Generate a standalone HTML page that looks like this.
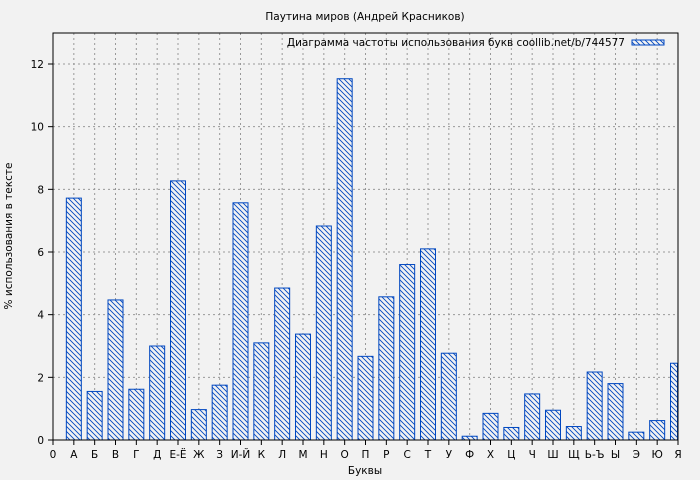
<!DOCTYPE html>
<html><head><meta charset="utf-8"><style>
body{margin:0;background:#f2f2f2;}
svg{display:block;font-family:"DejaVu Sans","Liberation Sans",sans-serif;}
</style></head><body>
<svg id="s" width="700" height="480" xmlns="http://www.w3.org/2000/svg">
<defs>
<pattern id="h" patternUnits="userSpaceOnUse" width="5" height="5">
<rect width="5" height="5" fill="#f2f2f2"/>
<path d="M-1,-1 L6,6 M-1,4 L1,6 M4,-1 L6,1" stroke="#0047c0" stroke-width="0.9"/>
</pattern>
</defs>
<rect x="53" y="33" width="625" height="407" fill="#f2f2f2"/>
<g id="grid"></g>
<g id="bars"></g>
<rect x="53" y="33" width="625" height="407" fill="none" stroke="#000" stroke-width="1"/>
<g id="ticks"></g>
<text x="365" y="20" font-size="10.5" text-anchor="middle">Паутина миров (Андрей Красников)</text>
<text x="625" y="46" font-size="10.5" text-anchor="end">Диаграмма частоты использования букв coollib.net/b/744577</text>
<rect x="632" y="40" width="32" height="5" fill="url(#h)" stroke="#0047c0"/>
<text x="365" y="474" font-size="10.5" text-anchor="middle">Буквы</text>
<text transform="translate(12,236) rotate(-90)" font-size="10.5" text-anchor="middle">% использования в тексте</text>
</svg>
<script>
const NS="http://www.w3.org/2000/svg";
function el(p,t,a,txt){const e=document.createElementNS(NS,t);for(const k in a)e.setAttribute(k,a[k]);if(txt!=null)e.textContent=txt;document.getElementById(p).appendChild(e);}
const L=["0","А","Б","В","Г","Д","Е-Ё","Ж","З","И-Й","К","Л","М","Н","О","П","Р","С","Т","У","Ф","Х","Ц","Ч","Ш","Щ","Ь-Ъ","Ы","Э","Ю","Я"];
const V=[7.72,1.55,4.47,1.62,3.0,8.27,0.97,1.75,7.57,3.1,4.85,3.38,6.83,11.53,2.67,4.57,5.6,6.1,2.77,0.12,0.85,0.4,1.47,0.95,0.43,2.17,1.8,0.25,0.62,2.45];
const X0=53,dx=625/30,Y0=440,k=376/12;
for(let i=1;i<30;i++){const x=X0+i*dx;el("grid","line",{x1:x,x2:x,y1:33,y2:440,stroke:"#999","stroke-dasharray":"2,3"});}
for(let v=2;v<=12;v+=2){const y=Y0-v*k;el("grid","line",{x1:53,x2:678,y1:y,y2:y,stroke:"#999","stroke-dasharray":"2,3"});}
V.forEach((v,j)=>{const i=j+1;const cx=X0+i*dx;let x=cx-8,w=16;if(x+w>678)w=678-x;const y=Y0-v*k;
el("bars","rect",{x:x+.5,y:y,width:w-1,height:Y0-y,fill:"url(#h)",stroke:"#0047c0","stroke-width":1});});
for(let i=0;i<=30;i++){const x=X0+i*dx;el("ticks","line",{x1:x,x2:x,y1:440,y2:445,stroke:"#000"});el("ticks","text",{x:x,y:458,"font-size":10.5,"text-anchor":"middle"},L[i]);}
for(let v=0;v<=12;v+=2){const y=Y0-v*k;el("ticks","line",{x1:48,x2:53,y1:y,y2:y,stroke:"#000"});el("ticks","text",{x:44,y:y+4,"font-size":10.5,"text-anchor":"end"},String(v));}
</script>
</body></html>
